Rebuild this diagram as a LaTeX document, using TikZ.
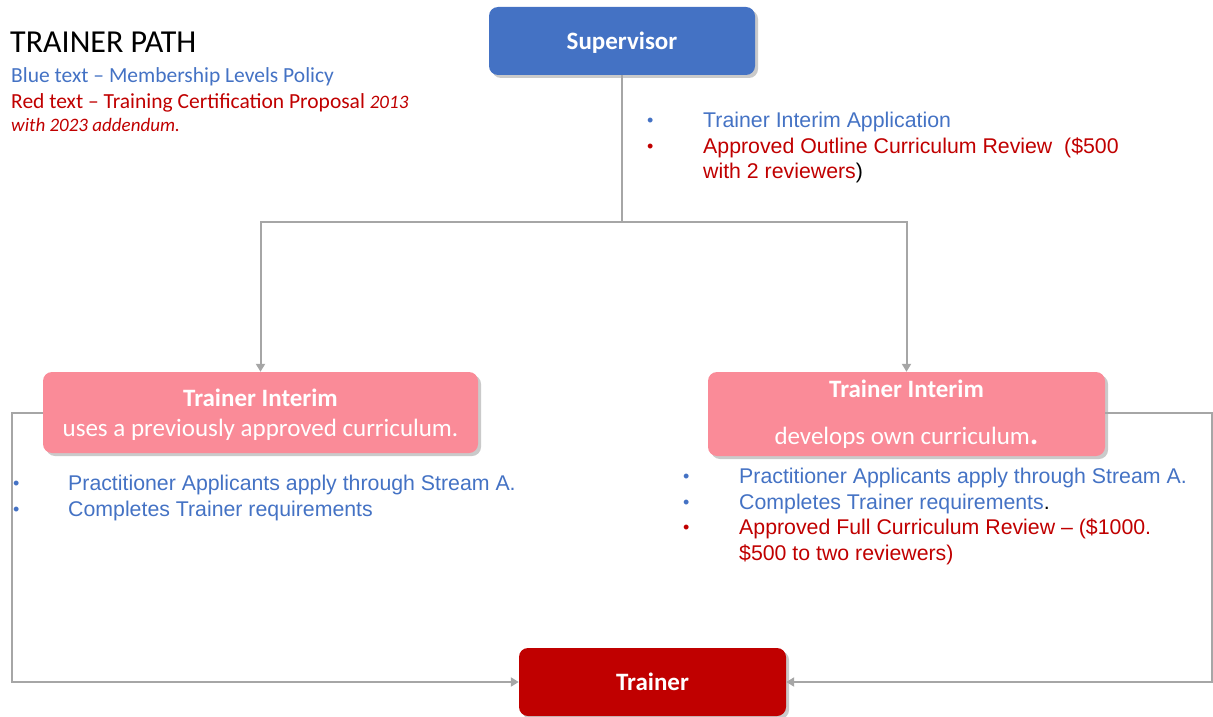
\documentclass[tikz,border=0pt]{standalone}
\usepackage{fontspec}
\setmainfont{Carlito}
\newfontfamily\arialf{Liberation Sans}
\usetikzlibrary{arrows.meta,shadows}
\definecolor{supblue}{HTML}{4472C4}
\definecolor{pinkbox}{HTML}{FA8B98}
\definecolor{darkred}{HTML}{C00000}
\definecolor{conngray}{HTML}{A6A6A6}
\tikzset{
  box/.style={rounded corners=9pt, text=white, align=center, inner sep=0pt,
    drop shadow={shadow xshift=3pt, shadow yshift=-3pt, opacity=0.35, fill=black!60}},
  conn/.style={draw=conngray, line width=2pt},
  arr/.style={conn, -{Triangle[width=9pt,length=8pt]}},
  bul/.style={anchor=base west, inner sep=0pt, font=\arialf\fontsize{21.3}{25}\selectfont},
  dot/.style={anchor=base west, inner sep=0pt, font=\arialf\fontsize{18}{20}\selectfont},
  legend/.style={anchor=base west, inner sep=0pt},
}
\begin{document}
\begin{tikzpicture}[x=1pt,y=-1pt]
\useasboundingbox (0,0) rectangle (1213,717);
% boxes
\node[box, fill=supblue, minimum width=266pt, minimum height=68pt, text depth=0pt,
  font=\bfseries\fontsize{25}{30}\selectfont] (sup) at (622,41) {Supervisor};
\node[box, fill=pinkbox, minimum width=435pt, minimum height=81pt,
  font=\fontsize{25}{30}\selectfont] (left) at (260.5,412.5)
  {\rule{0pt}{23pt}\textbf{Trainer Interim}\\
   uses a previously approved curriculum.};
\node[box, fill=pinkbox, minimum width=397pt, minimum height=84pt,
  font=\fontsize{25}{30}\selectfont] (right) at (906.5,414)
  {\textbf{Trainer Interim}\\[17pt]
   develops own curriculum{\fontsize{32}{30}\selectfont\bfseries.}};
\node[box, fill=darkred, minimum width=267pt, minimum height=68pt, text depth=0pt,
  font=\bfseries\fontsize{25}{30}\selectfont] (trainer) at (652.5,682) {Trainer};
% connectors
\coordinate (split) at (622,222);
\coordinate (lc) at (12,412.5);
\coordinate (rc) at (1212,413);
\draw[conn] (sup.south) -- (split);
\draw[arr] (split) -| (left.north);
\draw[arr] (split) -| (right.north);
\draw[arr] (left.west) -- (lc) |- (trainer.west);
\draw[arr] (right.east |- rc) -- (rc) |- (trainer.east);
% title and legend
\node[legend, font=\fontsize{32}{36}\selectfont] (title) at (10,53) {TRAINER PATH};
\node[legend, text=supblue, font=\fontsize{21.5}{24}\selectfont] (leg1) at (11,82)
  {Blue text – Membership Levels Policy};
\node[legend, text=darkred, font=\fontsize{21.5}{24}\selectfont] (leg2) at (11,108)
  {Red text – Training Certification Proposal \textit{\fontsize{19}{22}\selectfont 2013}};
\node[legend, text=darkred, font=\itshape\fontsize{19}{22}\selectfont] (leg3) at (11,131)
  {with 2023 addendum.};
% supervisor bullets
\node[dot, text=supblue] (sb1) at (647,126) {•};
\node[bul, text=supblue] (st1) at (703,127) {Trainer Interim Application};
\node[dot, text=darkred] (sb2) at (647,152) {•};
\node[bul, text=darkred] (st2) at (703,153) {Approved Outline Curriculum Review\ \ (\$500};
\node[bul, text=darkred] (st3) at (703,178) {with 2 reviewers\textcolor{black}{)}};
% left bullets
\node[dot, text=supblue] (lb1) at (13,489) {•};
\node[bul, text=supblue] (lt1) at (68,490) {Practitioner Applicants apply through Stream A.};
\node[dot, text=supblue] (lb2) at (13,515) {•};
\node[bul, text=supblue] (lt2) at (68,516) {Completes Trainer requirements};
% right bullets
\node[dot, text=supblue] (rb1) at (683,482) {•};
\node[bul, text=supblue] (rt1) at (739,483) {Practitioner Applicants apply through Stream A.};
\node[dot, text=supblue] (rb2) at (683,508) {•};
\node[bul, text=supblue] (rt2) at (739,509) {Completes Trainer requirements\textcolor{black}{.}};
\node[dot, text=darkred] (rb3) at (683,533) {•};
\node[bul, text=darkred] (rt3) at (739,534) {Approved Full Curriculum Review – (\$1000.};
\node[bul, text=darkred] (rt4) at (739,560) {\$500 to two reviewers)};
\end{tikzpicture}
\end{document}
